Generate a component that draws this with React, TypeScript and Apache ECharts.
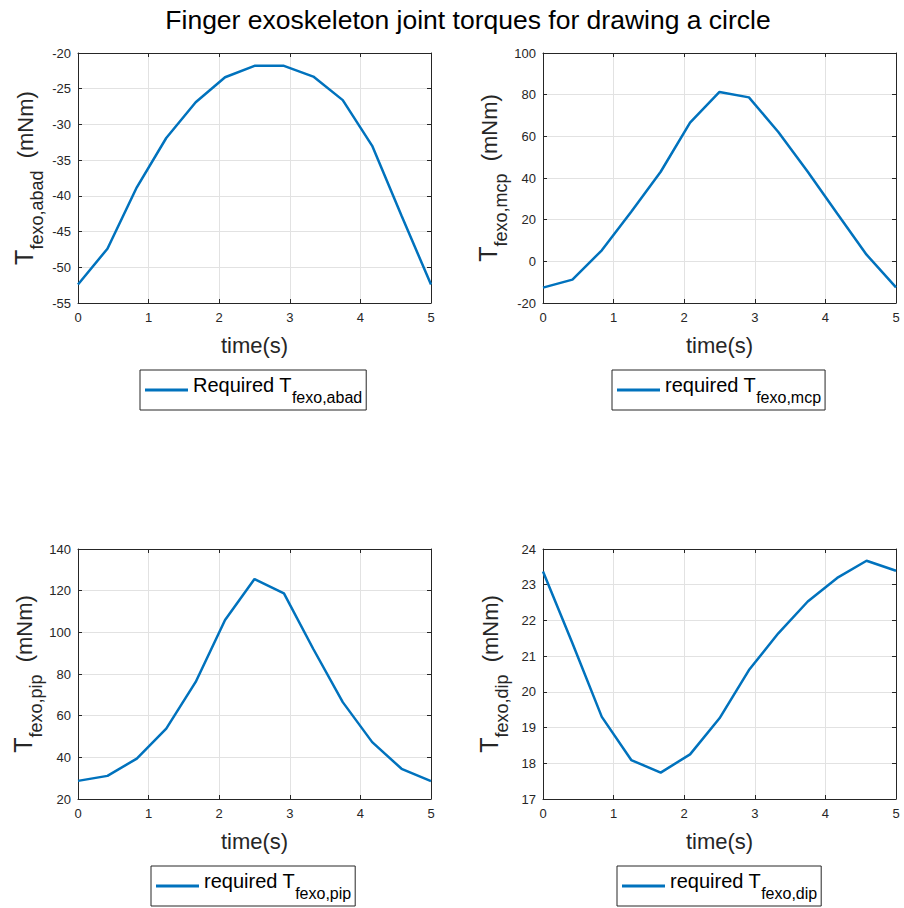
import React, { useEffect, useRef } from "react";
import * as echarts from "echarts";

// ---- data ----
const time = [0, 0.417, 0.833, 1.25, 1.667, 2.083, 2.5, 2.917, 3.333, 3.75, 4.167, 4.583, 5];
const torqueAbad = [-52.4, -47.4, -38.8, -31.9, -26.9, -23.4, -21.8, -21.8, -23.3, -26.6, -33.0, -42.8, -52.4];
const torqueMcp = [-12.6, -8.8, 5.3, 23.8, 43.0, 66.6, 81.3, 78.7, 62.1, 43.0, 23.0, 3.2, -12.5];
const torquePip = [28.7, 31.1, 39.4, 53.8, 76.2, 105.9, 125.6, 118.7, 92.0, 66.5, 47.3, 34.5, 28.6];
const torqueDip = [23.37, 21.36, 19.3, 18.09, 17.74, 18.25, 19.26, 20.61, 21.64, 22.53, 23.19, 23.67, 23.39];

const subscripts = ["fexo,abad", "fexo,mcp", "fexo,pip", "fexo,dip"];
const legendWords = ["Required T", "required T", "required T", "required T"];
const yMins = [-55, -20, 20, 17];
const yMaxs = [-20, 100, 140, 24];
const yIntervals = [5, 20, 20, 1];
const xTicks = { min: 0, max: 5, interval: 1 };
const titleText = "Finger exoskeleton joint torques for drawing a circle";
const xName = "time(s)";

const FONT = "'Liberation Sans', Arial, Helvetica, sans-serif";
const AX = "#262626";
const BLUE = "#0072BD";
const GRIDC = "#e2e2e2";

const layouts = [
  { left: 78, top: 53, legendLeft: 140, legendTop: 370 },
  { left: 543, top: 53, legendLeft: 612, legendTop: 370 },
  { left: 78, top: 549, legendLeft: 151, legendTop: 866 },
  { left: 543, top: 549, legendLeft: 617, legendTop: 866 },
];

function buildOption() {
  const series = [torqueAbad, torqueMcp, torquePip, torqueDip];
  const grid: any[] = [];
  const xAxis: any[] = [];
  const yAxis: any[] = [];
  const ser: any[] = [];
  const legend: any[] = [];

  series.forEach((vals, i) => {
    const L = layouts[i];
    grid.push({ left: L.left, top: L.top, width: 353, height: 250, containLabel: false });
    const name = legendWords[i] + "_" + subscripts[i];
    // bottom x axis
    xAxis.push({
      type: "value",
      gridIndex: i,
      position: "bottom",
      min: xTicks.min,
      max: xTicks.max,
      interval: xTicks.interval,
      name: xName,
      nameLocation: "middle",
      nameGap: 31,
      nameTextStyle: { fontSize: 22, color: AX, fontFamily: FONT },
      axisLine: { onZero: false, lineStyle: { color: AX, width: 1 } },
      axisTick: { inside: true, length: 4, lineStyle: { color: AX } },
      axisLabel: { color: AX, fontSize: 13, fontFamily: FONT, margin: 8 },
      splitLine: { show: true, lineStyle: { color: GRIDC, width: 1 } },
    });
    // top x axis (box)
    xAxis.push({
      type: "value",
      gridIndex: i,
      position: "top",
      min: xTicks.min,
      max: xTicks.max,
      interval: xTicks.interval,
      axisLine: { onZero: false, lineStyle: { color: AX, width: 1 } },
      axisTick: { inside: true, length: 4, lineStyle: { color: AX } },
      axisLabel: { show: false },
      splitLine: { show: false },
    });
    yAxis.push({
      type: "value",
      gridIndex: i,
      position: "left",
      min: yMins[i],
      max: yMaxs[i],
      interval: yIntervals[i],
      name: "{T|T}{s|" + subscripts[i] + "}{u|  (mNm)}",
      nameLocation: "middle",
      nameGap: 32,
      nameTextStyle: {
        color: AX,
        fontFamily: FONT,
        rich: {
          T: { fontSize: 25, verticalAlign: "top", color: AX, fontFamily: FONT },
          s: { fontSize: 18, verticalAlign: "top", padding: [17, 0, 0, 0], color: AX, fontFamily: FONT },
          u: { fontSize: 22, verticalAlign: "top", padding: [3, 0, 0, 0], color: AX, fontFamily: FONT },
        },
      },
      axisLine: { onZero: false, lineStyle: { color: AX, width: 1 } },
      axisTick: { inside: true, length: 4, lineStyle: { color: AX } },
      axisLabel: { color: AX, fontSize: 13, fontFamily: FONT, margin: 7 },
      splitLine: { show: true, lineStyle: { color: GRIDC, width: 1 } },
    });
    yAxis.push({
      type: "value",
      gridIndex: i,
      position: "right",
      min: yMins[i],
      max: yMaxs[i],
      interval: yIntervals[i],
      axisLine: { onZero: false, lineStyle: { color: AX, width: 1 } },
      axisTick: { inside: true, length: 4, lineStyle: { color: AX } },
      axisLabel: { show: false },
      splitLine: { show: false },
    });
    ser.push({
      type: "line",
      name,
      xAxisIndex: i * 2,
      yAxisIndex: i * 2,
      data: time.map((t, k) => [t, vals[k]]),
      showSymbol: false,
      symbol: "none",
      color: BLUE,
      itemStyle: { color: BLUE },
      lineStyle: { color: BLUE, width: 2.5 },
      z: 3,
    });
    legend.push({
      data: [name],
      left: L.legendLeft,
      top: L.legendTop,
      orient: "horizontal",
      selectedMode: false,
      icon: "rect",
      itemWidth: 43,
      itemHeight: 3,
      itemStyle: { borderWidth: 0, color: BLUE },
      padding: [5, 4, 5, 5],
      borderColor: AX,
      borderWidth: 1,
      backgroundColor: "#fff",
      formatter: () => "{a|" + legendWords[i] + "}{s|" + subscripts[i] + "}",
      textStyle: {
        color: "#000",
        fontFamily: FONT,
        rich: {
          a: { fontSize: 20, verticalAlign: "top", color: "#000", fontFamily: FONT },
          s: { fontSize: 16, verticalAlign: "top", padding: [14, 0, 0, 0], color: "#000", fontFamily: FONT },
        },
      },
    });
  });

  return {
    animation: false,
    backgroundColor: "#fff",
    title: {
      text: titleText,
      left: 468,
      top: 6,
      textAlign: "center",
      padding: 0,
      textStyle: { fontSize: 26.5, fontWeight: "normal", color: "#000", fontFamily: FONT },
    },
    grid,
    xAxis,
    yAxis,
    legend,
    series: ser,
  };
}

export default function App() {
  const ref = useRef<HTMLDivElement>(null);
  useEffect(() => {
    if (!ref.current) return;
    const chart = echarts.init(ref.current, undefined, { renderer: "svg" });
    chart.setOption(buildOption() as any);
    return () => chart.dispose();
  }, []);
  return (
    <div
      ref={ref}
      style={{ position: "fixed", left: 0, top: 0, width: 904, height: 908, background: "#fff" }}
    />
  );
}
